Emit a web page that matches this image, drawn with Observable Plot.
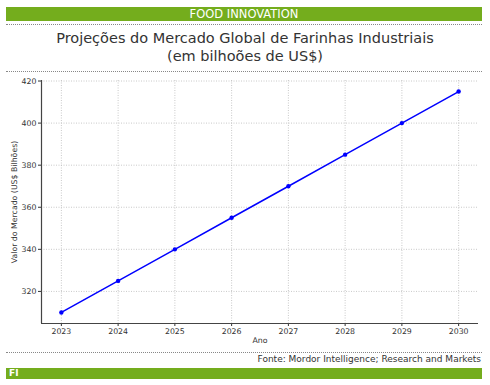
<!DOCTYPE html>
<html><head><meta charset="utf-8">
<script src="https://cdn.jsdelivr.net/npm/d3@7"></script>
<script src="https://cdn.jsdelivr.net/npm/@observablehq/plot@0.6"></script>
<style>
body{margin:0;width:490px;height:385px;background:#fff;font-family:"DejaVu Sans",sans-serif;position:relative;overflow:hidden}
.bar{position:absolute;left:6px;width:476px;background:#74ad1d;color:#fff}
#hdr{top:7px;height:14px;font-size:11.5px;line-height:14px;text-align:center}
.dot{position:absolute;left:6px;width:476px;border-top:1px dotted #888}
#title{position:absolute;top:29px;left:0;width:490px;text-align:center;font-size:14.5px;line-height:18px;color:#333}
#chart{position:absolute;top:74px;left:0}
#src{position:absolute;top:354px;right:9px;font-size:9px;color:#333}
#ftr{top:368px;height:11px;font-size:9px;line-height:11px;font-weight:bold;padding-left:3px;box-sizing:border-box}
</style></head><body>
<div id="hdr" class="bar">FOOD INNOVATION</div>
<div class="dot" style="top:24px"></div>
<div id="title">Projeções do Mercado Global de Farinhas Industriais<br>(em bilhoões de US$)</div>
<div class="dot" style="top:71px"></div>
<div id="chart"></div>
<div class="dot" style="top:352px"></div>
<div id="src">Fonte: Mordor Intelligence; Research and Markets</div>
<div id="ftr" class="bar">FI</div>
<script>
const years = [2023, 2024, 2025, 2026, 2027, 2028, 2029, 2030];
const values = [310, 325, 340, 355, 370, 385, 400, 415];
const yTicks = [320, 340, 360, 380, 400, 420];
const data = years.map((y, i) => ({year: y, value: values[i]}));

const plot = Plot.plot({
  width: 490, height: 278,
  marginLeft: 41, marginRight: 12, marginTop: 6, marginBottom: 29,
  style: {fontFamily: "DejaVu Sans, sans-serif", fontSize: "7.8px", color: "#333", background: "transparent"},
  x: {domain: [2022.65, 2030.35], ticks: years, tickFormat: "d"},
  y: {domain: [304.75, 420.25], ticks: yTicks},
  marks: [
    Plot.gridX(years, {stroke: "#bbb", strokeOpacity: 0.8, strokeDasharray: "1,1.5"}),
    Plot.gridY(yTicks, {stroke: "#bbb", strokeOpacity: 0.8, strokeDasharray: "1,1.5"}),
    Plot.axisX({ticks: years, tickFormat: "d", tickSize: 3, tickPadding: 2, label: "Ano", labelAnchor: "center", labelArrow: "none", labelOffset: 19, fontSize: 7.8}),
    Plot.axisY({ticks: yTicks, tickSize: 3, tickPadding: 2, label: "Valor do Mercado (US$ Bilhões)", labelAnchor: "center", labelOffset: 30, labelArrow: "none", fontSize: 7.8}),
    Plot.ruleX([2022.65], {stroke: "#444", strokeWidth: 1.2}),
    Plot.ruleY([304.75], {stroke: "#444", strokeWidth: 1.2}),
    Plot.line(data, {x: "year", y: "value", stroke: "#0000ff", strokeWidth: 1.5}),
    Plot.dot(data, {x: "year", y: "value", fill: "#0000ff", r: 2.2})
  ]
});
document.getElementById("chart").appendChild(plot);
</script>
</body></html>
